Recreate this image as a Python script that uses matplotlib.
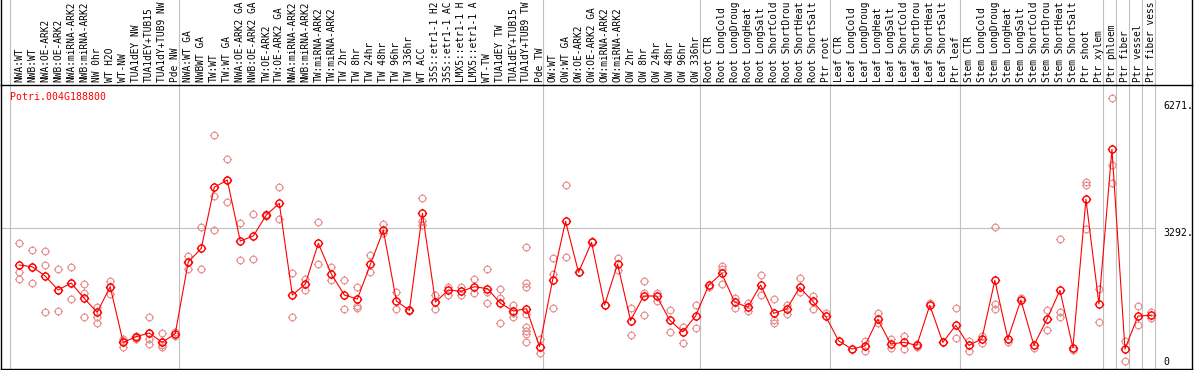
import matplotlib
matplotlib.use("Agg")
import matplotlib.pyplot as plt
import matplotlib.transforms as mtransforms
from matplotlib.path import Path

gene = "Potri.004G188800"

samples = [
    "NWA:WT", "NWB:WT", "NWA:OE-ARK2", "NWB:OE-ARK2", "NWA:miRNA-ARK2", "NWB:miRNA-ARK2",
    "NW 0hr", "WT H2O", "WT-NW", "TUA1dEY NW", "TUA1dEY+TUB15 NW", "TUA1dY+TUB9 NW", "Pde NW",
    "NWA:WT GA", "NWBWT GA", "TW:WT", "TW:WT GA", "NWA:OE-ARK2 GA", "NWB:OE-ARK2 GA",
    "TW:OE-ARK2", "TW:OE-ARK2 GA", "NWA:miRNA-ARK2", "NWB:miRNA-ARK2", "TW:miRNA-ARK2",
    "TW:miRNA-ARK2", "TW 2hr", "TW 8hr", "TW 24hr", "TW 48hr", "TW 96hr", "TW 336hr", "WT ACC",
    "35S::etr1-1 H2O", "35S::etr1-1 ACC", "LMX5::etr1-1 H2O", "LMX5::etr1-1 ACC", "WT-TW",
    "TUA1dEY TW", "TUA1dEY+TUB15 TW", "TUA1dY+TUB9 TW", "Pde TW",
    "OW:WT", "OW:WT GA", "OW:OE-ARK2", "OW:OE-ARK2 GA", "OW:miRNA-ARK2", "OW:miRNA-ARK2",
    "OW 2hr", "OW 8hr", "OW 24hr", "OW 48hr", "OW 96hr", "OW 336hr",
    "Root CTR", "Root LongCold", "Root LongDrought", "Root LongHeat", "Root LongSalt",
    "Root ShortCold", "Root ShortDrought", "Root ShortHeat", "Root ShortSalt", "Ptr root",
    "Leaf CTR", "Leaf LongCold", "Leaf LongDrought", "Leaf LongHeat", "Leaf LongSalt",
    "Leaf ShortCold", "Leaf ShortDrought", "Leaf ShortHeat", "Leaf ShortSalt", "Ptr leaf",
    "Stem CTR", "Stem LongCold", "Stem LongDrought", "Stem LongHeat", "Stem LongSalt",
    "Stem ShortCold", "Stem ShortDrought", "Stem ShortHeat", "Stem ShortSalt", "Ptr shoot",
    "Ptr xylem", "Ptr phloem", "Ptr fiber", "Ptr vessel", "Ptr fiber vessel",
]

# sample index where each experiment group starts
group_starts = [0, 13, 41, 53, 63, 73, 84, 85, 86, 87, 88]

means = [
    2422, 2382, 2163, 1834, 1999, 1638, 1309, 1912, 604, 737, 823, 604, 807,
    2492, 2814, 4249, 4420, 2986, 3104, 3598, 3872, 1716, 1975, 2932, 2210, 1716, 1622,
    2438, 3237, 1575, 1356, 3637, 1552, 1834, 1803, 1912, 1865, 1521, 1340, 1395, 501,
    2061, 3449, 2250, 2955, 1481, 2445, 1113, 1693, 1693, 1129, 847, 1223,
    1944, 2226, 1552, 1426, 1952, 1286, 1387, 1897, 1567, 1215,
    635, 447, 517, 1144, 564, 604, 533, 1474, 604, 1003,
    533, 682, 2061, 682, 1599, 533, 1144, 1826, 478, 3967, 1505,
    5143, 447, 1223, 1238,
]

replicates = [
    [2932, 2265, 2086], [2767, 1999, 2382], [2743, 2422, 1317], [2320, 1340, 1834],
    [2375, 1622, 2000], [1975, 1770, 1192], [1442, 1207, 1058], [2053, 1740, 1912],
    [675, 501, 640], [760, 690, 737], [1192, 675, 557, 823], [823, 604, 501, 540], [760, 840],
    [2641, 2328, 2492], [3315, 2320], [5479, 4044, 3245], [4907, 3903, 4420], [3402, 2532],
    [3614, 2556], [3621, 3580], [4249, 3504], [2234, 1192], [2100, 1834], [3425, 2445],
    [2375, 2061], [2061, 1387], [1897, 1458, 1420], [2649, 2257], [3386, 3167], [1787, 1387],
    [1356, 1340], [3997, 3457, 3370], [1724, 1387], [1912, 1724], [1912, 1724], [2093, 1756],
    [2320, 1787, 1521], [1850, 1638, 1051], [1481, 1207, 1300],
    [2845, 2006, 1912, 1270, 971, 862, 807, 604], [675, 346],
    [2587, 2210, 1403], [4296, 2603], [2250], [2980], [1481], [2594, 2304], [1403, 769],
    [2038, 1770, 1238], [1770, 1575], [1364, 847], [971, 580], [1481, 941],
    [1912], [2398, 2320, 1975], [1638, 1411], [1536, 1340], [2179, 1716], [1615, 1129, 1060],
    [1480, 1270], [2108, 1779], [1700, 1395], [1290],
    [635], [447], [643, 407], [1301, 1051], [675, 462], [752, 439], [560, 500], [1536],
    [620], [1403, 698],
    [643, 407], [760, 580], [3308, 1512, 1387], [620], [1640], [460], [1364, 894],
    [3026, 1317, 1207], [420], [4374, 4303, 3261], [1850, 1074],
    [6349, 4773, 4343], [643, 165], [1458, 1003], [1324, 1180],
]

tick_values = [6271.5, 3292.7, 0]
tick_texts = ["6271.58", "3292.74", "0"]

W, H = 1194, 370
fig = plt.figure(figsize=(W / 100, H / 100), dpi=100)
# plot box: x 1..1192 px, y 85..369 px (from top)
ax = fig.add_axes([1 / W, 1 / H, 1191 / W, 284 / H])

col = 13.01  # pixels per sample column, first column starts at x=10 px
ax.set_xlim(-9 / col, (1192 - 10) / col)
ax.set_ylim(-23.5, 6654.5)
ax.set_xticks([])
ax.set_yticks([])
for s in ax.spines.values():
    s.set_color("black")
    s.set_linewidth(1.0)

# circle marker with little ticks
circle = Path.unit_circle()
tk = 1.35
ticks = Path([(0, 1), (0, tk), (0, -1), (0, -tk), (1, 0), (tk, 0), (-1, 0), (-tk, 0)],
             [Path.MOVETO, Path.LINETO] * 4)
marker = Path.make_compound_path(circle, ticks)

xs = [i + 0.7 for i in range(len(samples))]

# separators between experiments, reaching up through the label area
for g in group_starts:
    ax.axvline(g, ymin=0, ymax=369 / 284, color="#c0c0c0", lw=0.8, clip_on=False, zorder=1)
# borders extend up to the top of the figure
ax.plot([0, 0], [1, 369 / 284], transform=ax.transAxes, color="black", lw=1.0, clip_on=False)
ax.plot([1, 1], [1, 369 / 284], transform=ax.transAxes, color="black", lw=1.0, clip_on=False)

# middle grid line
ax.axhline(tick_values[1], xmin=0, xmax=(1155 - 1) / 1191, color="#c0c0c0", lw=0.8, zorder=1)

for x, reps in zip(xs, replicates):
    ax.plot([x] * len(reps), reps, linestyle="none", marker=marker, markersize=6.5,
            markerfacecolor="none", markeredgecolor="#e98e8e", markeredgewidth=0.8, zorder=2)

ax.plot(xs, means, color="red", lw=0.8, zorder=3)
ax.plot(xs, means, linestyle="none", marker=marker, markersize=6.8,
        markerfacecolor="none", markeredgecolor="red", markeredgewidth=1.0, zorder=4)

# sample names are cut to 14 characters, as in the original chart
mono = "DejaVu Sans Mono"
for x, name in zip(xs, samples):
    ax.text(x, 1 + 3 / 284, name[:14].rstrip(), transform=ax.get_xaxis_transform(), rotation=90,
            ha="center", va="bottom", fontsize=6.85, family=mono, color="black")

ax.text(0, 1 - 12 / 284, gene, transform=ax.get_xaxis_transform(), ha="left", va="center",
        fontsize=7.1, family=mono, color="red")

label_x = (1163 - 10) / col
for v, t in zip(tick_values, tick_texts):
    dy = -5 if v > 0 else 6
    off = mtransforms.ScaledTranslation(0, dy / 100, fig.dpi_scale_trans)
    ax.text(label_x, v, t[:5], transform=ax.transData + off, ha="left", va="center",
            fontsize=7.1, family=mono, color="black", clip_on=False)

fig.savefig("out.png", dpi=100)
